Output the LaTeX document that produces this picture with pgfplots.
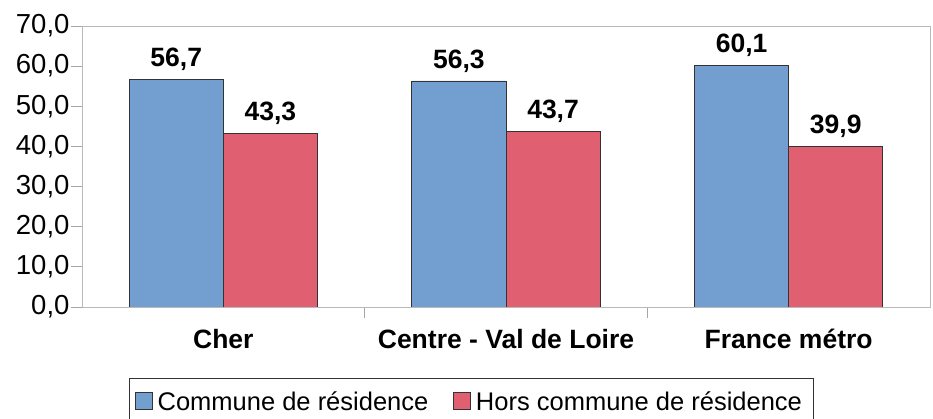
\documentclass[border=0pt]{standalone}
\usepackage{fontspec}
\setmainfont{Liberation Sans}
\usepackage{pgfplots}
\pgfplotsset{compat=1.18}
\definecolor{bleu}{RGB}{114,159,207}
\definecolor{rouge}{RGB}{224,96,113}
\newcommand{\fs}{\fontsize{27.5}{33}\selectfont}
\newcommand{\fb}{\fontsize{26.5}{32}\selectfont\bfseries}
\newcommand{\fl}{\fontsize{25.5}{30}\selectfont}
\pgfkeys{/pgf/number format/.cd, use comma, fixed, fixed zerofill, precision=1, assume math mode=true}

\begin{document}
\begin{tikzpicture}
  \begin{axis}[
      name=ax,
      scale only axis,
      width=848pt, height=281pt,
      ybar=0pt,
      bar width=0.333,
      xmin=-0.5, xmax=2.5,
      ymin=0, ymax=70,
      ytick={0,10,...,70},
      xtick={0.5,1.5},
      xticklabels={},
      extra x ticks={0,1,2},
      extra x tick labels={Cher, Centre - Val de Loire, France métro},
      extra x tick style={major tick length=0pt,
        xticklabel style={font=\fb, yshift=-19pt}},
      xtick pos=bottom, ytick pos=left,
      tick align=outside,
      major tick length=11pt,
      tick style={draw=gray!70, line width=0.8pt},
      axis line style={draw=gray!55, line width=0.8pt},
      tick label style={font=\fs},
      yticklabel style={xshift=2pt},
      nodes near coords,
      every node near coord/.append style={font=\fb, black, yshift=5pt},
      legend columns=2,
      legend style={at={(axis description cs:0.5,0)}, anchor=north,
        xshift=-35pt, yshift=-71pt, font=\fl, draw=black!80, line width=0.8pt,
        inner xsep=6pt, inner ysep=11pt,
        nodes={inner xsep=5pt},
        /tikz/every even column/.append style={column sep=20pt}},
      legend image code/.code={\draw[#1, draw=black!80, line width=0.6pt] (3pt,-8pt) rectangle (20pt,9pt);},
    ]
    \addplot[fill=bleu, draw=black!80, line width=0.8pt] coordinates {(0,56.7) (1,56.3) (2,60.1)};
    \addplot[fill=rouge, draw=black!80, line width=0.8pt] coordinates {(0,43.3) (1,43.7) (2,39.9)};
    \legend{Commune de résidence, Hors commune de résidence}
  \end{axis}
  \pgfresetboundingbox
  \path ([xshift=-82pt,yshift=-112pt]ax.south west) rectangle ([xshift=3pt,yshift=26pt]ax.north east);
\end{tikzpicture}
\end{document}
